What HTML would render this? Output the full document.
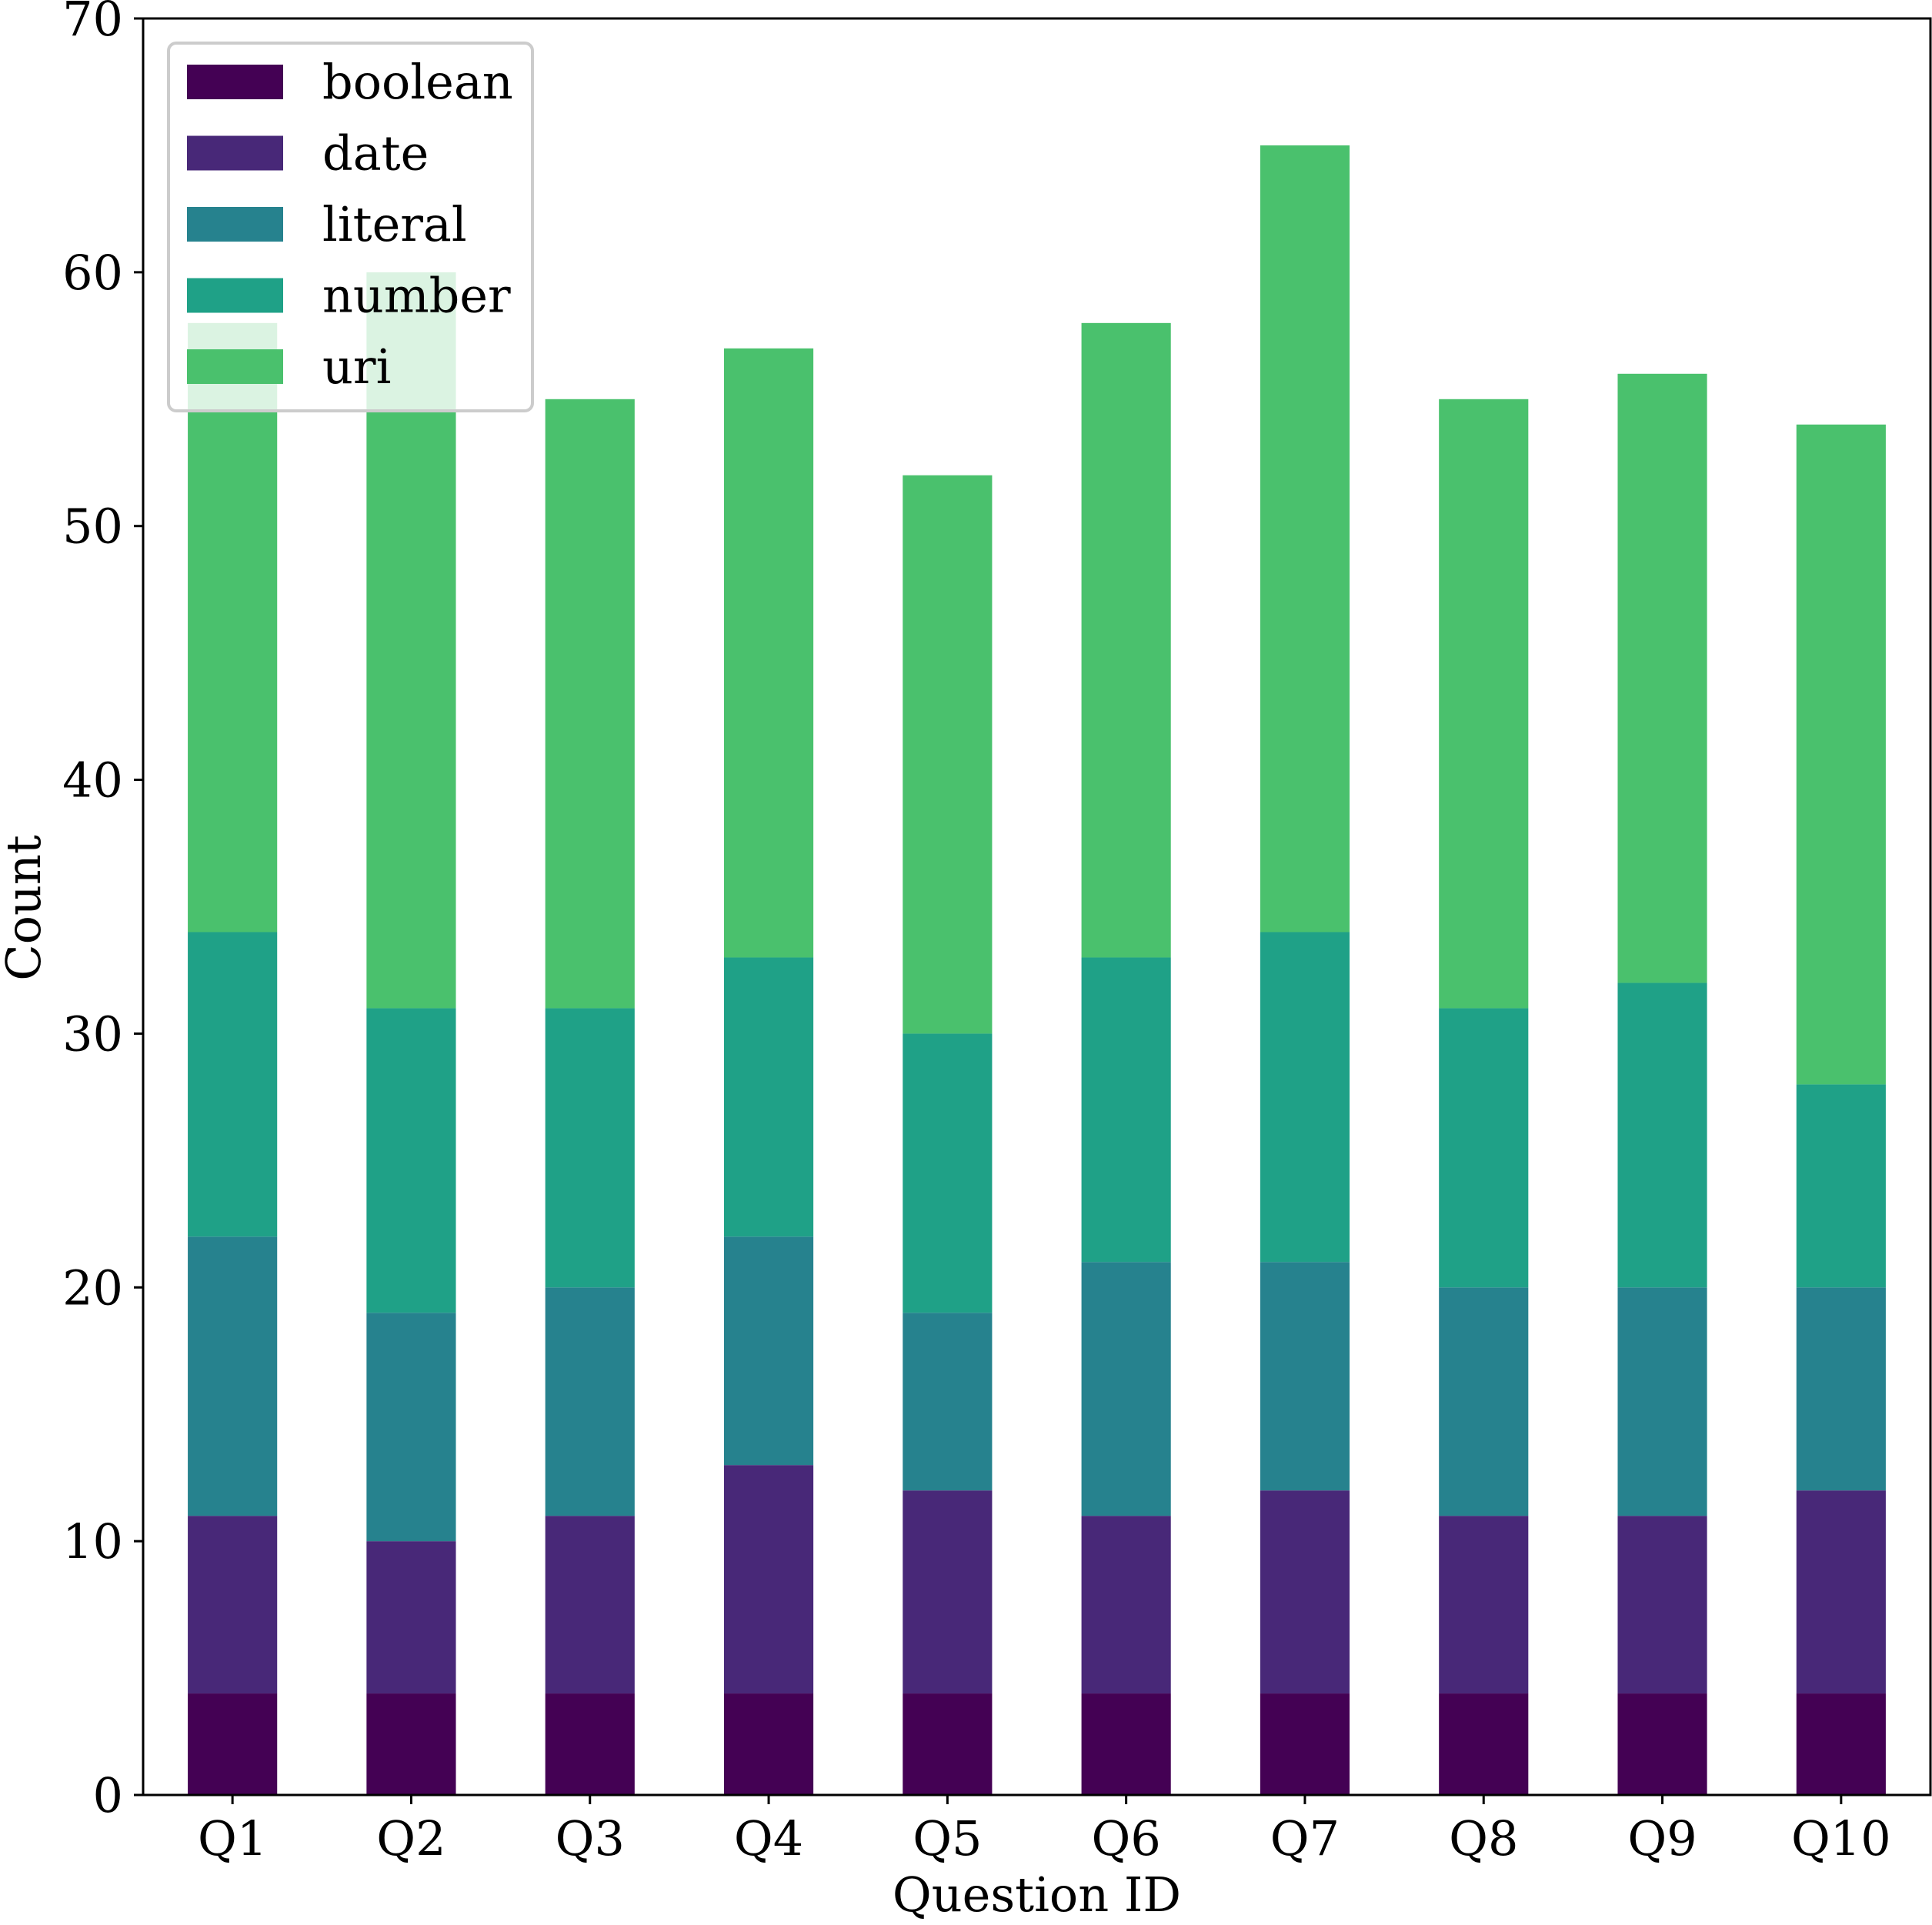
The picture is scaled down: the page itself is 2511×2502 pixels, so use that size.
<!DOCTYPE html>
<html><head><meta charset="utf-8"><style>
html,body{margin:0;padding:0;background:#fff}
svg{display:block}
text{font-family:"DejaVu Serif","Liberation Serif",serif;fill:#000}
</style></head><body>
<svg id="chart" width="2511" height="2502" viewBox="0 0 2511 2502" xmlns="http://www.w3.org/2000/svg">
<g id="bars"></g>
<g id="axes"></g>
<g id="legend"></g>
</svg>
<script>
const categories = ["Q1","Q2","Q3","Q4","Q5","Q6","Q7","Q8","Q9","Q10"];
const seriesNames = ["boolean","date","literal","number","uri"];
const booleanVals = [4,4,4,4,4,4,4,4,4,4];
const dateVals = [7,6,7,9,8,7,8,7,7,8];
const literalVals = [11,9,9,9,7,10,9,9,9,8];
const numberVals = [12,12,11,11,11,12,13,11,12,8];
const uriVals = [24,29,24,24,22,25,31,24,24,26];
const yTicks = [0,10,20,30,40,50,60,70];

const seriesVals = [booleanVals,dateVals,literalVals,numberVals,uriVals];
const colors = ["#440154","#482878","#26828e","#1fa187","#4ac16d"];
const NS = "http://www.w3.org/2000/svg";
const L = 186, R = 2509, T = 24, B = 2333;
const yMin = 0, yMax = 70;
const n = categories.length;
const step = (R - L) / n;
const FS = 62;
function xScale(i){ return L + step * (i + 0.5); }
function yScale(v){ return B - (v - yMin) / (yMax - yMin) * (B - T); }
function mk(tag, attrs, parent){
  const e = document.createElementNS(NS, tag);
  for (const k in attrs) e.setAttribute(k, attrs[k]);
  parent.appendChild(e); return e;
}
const barsG = document.getElementById('bars');
const bw = step * 0.5;
for (let i = 0; i < n; i++){
  let base = 0;
  for (let s = 0; s < seriesVals.length; s++){
    const v = seriesVals[s][i];
    const r = mk('rect', {x: xScale(i) - bw/2, y: yScale(base + v), width: bw, height: yScale(base) - yScale(base + v), fill: colors[s]}, barsG);
    
    
    base += v;
  }
}
const ax = document.getElementById('axes');
const frame = mk('rect', {x: L, y: T, width: R - L, height: B - T, fill: 'none', stroke: '#000', 'stroke-width': 3}, ax);


yTicks.forEach(t => {
  const y = yScale(t);
  const tk = mk('line', {x1: L - 12, x2: L, y1: y, y2: y, stroke: '#000', 'stroke-width': 3}, ax);
  
  
  const lb = mk('text', {x: L - 26, y: y + 22, 'text-anchor': 'end', 'font-size': FS}, ax);
  lb.textContent = t;
  
  
});
categories.forEach((c, i) => {
  const x = xScale(i);
  const tk = mk('line', {x1: x, x2: x, y1: B, y2: B + 12, stroke: '#000', 'stroke-width': 3}, ax);
  
  
  const lb = mk('text', {x: x, y: B + 78, 'text-anchor': 'middle', 'font-size': FS}, ax);
  lb.textContent = c;
  
  
});
const xt = mk('text', {x: (L + R) / 2, y: 2484, 'text-anchor': 'middle', 'font-size': FS}, ax);
xt.textContent = 'Question ID';


const yt = mk('text', {x: 0, y: 0, 'text-anchor': 'middle', 'font-size': FS, transform: 'translate(52,1180) rotate(-90)'}, ax);
yt.textContent = 'Count';



const lg = document.getElementById('legend');
const box = mk('rect', {x: 219, y: 56, width: 473, height: 478, rx: 10, fill: 'rgba(255,255,255,0.8)', stroke: '#cccccc', 'stroke-width': 4}, lg);


seriesNames.forEach((s, k) => {
  const cy = 106 + k * 92.5;
  const p = mk('rect', {x: 243, y: cy - 22, width: 125, height: 45, fill: colors[k]}, lg);
  
  
  const t = mk('text', {x: 419, y: cy + 22, 'font-size': FS}, lg);
  t.textContent = s;
  
  
});
</script>
</body></html>
